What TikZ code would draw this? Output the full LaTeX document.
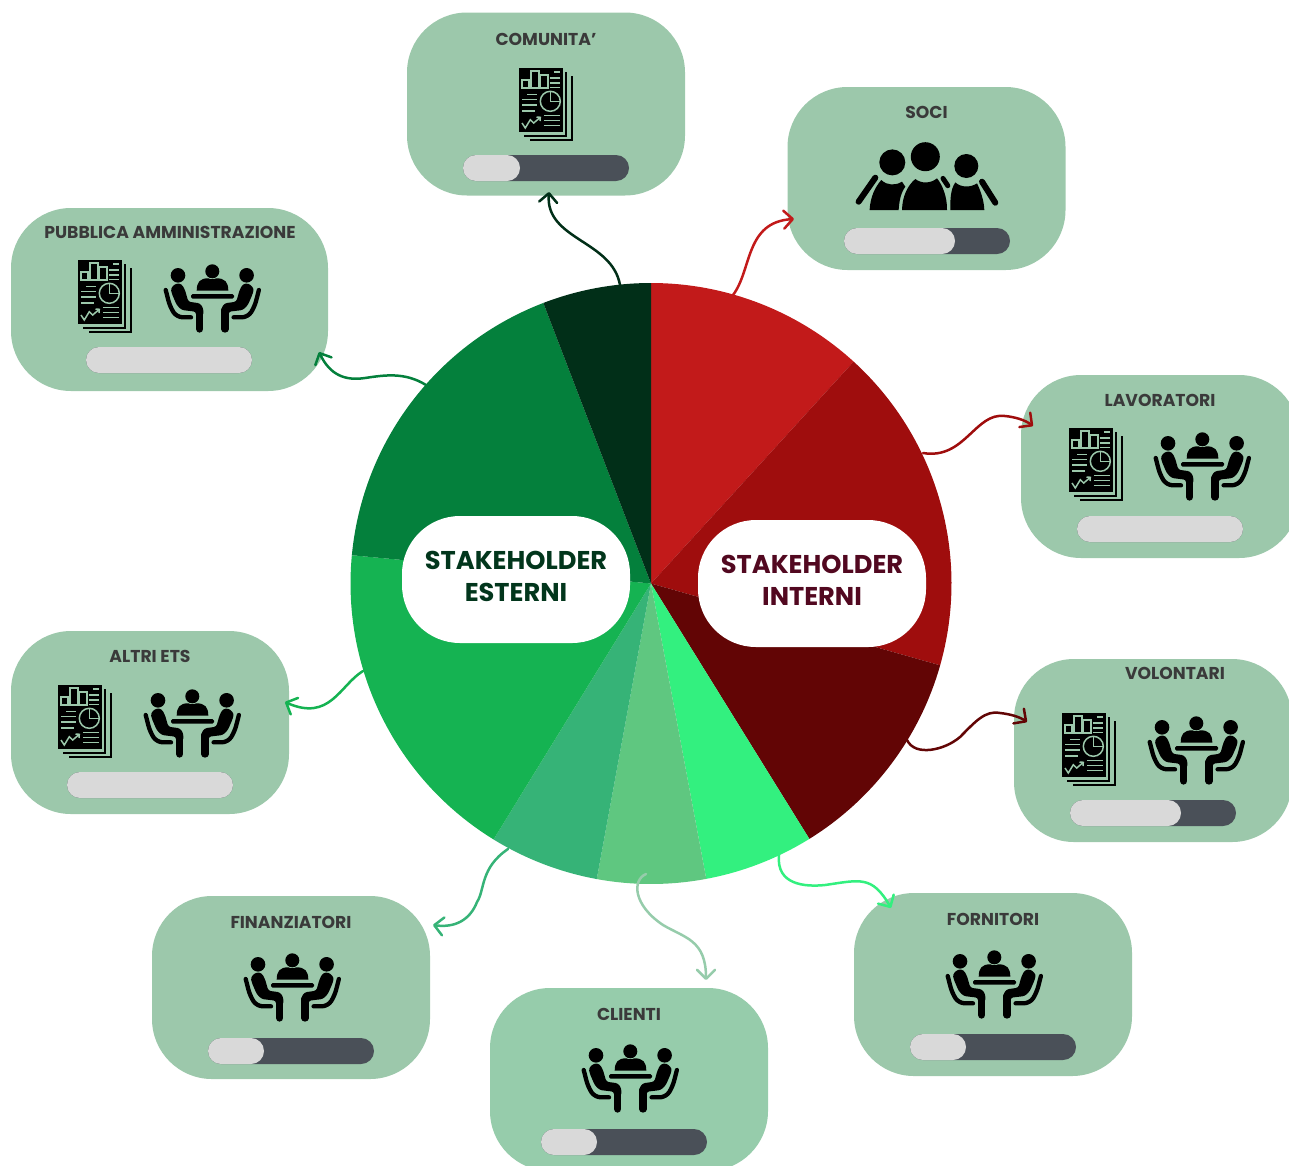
\documentclass[tikz,border=0pt]{standalone}
\usepackage{fontspec}
\setmainfont{Poppins}
\usetikzlibrary{
    arrows.meta,
    positioning
}
\definecolor{cardgreen}{HTML}{9CC8AB}
\definecolor{clientgreen}{HTML}{96CCAB}
\definecolor{trackgray}{HTML}{4A5058}
\definecolor{fillgray}{HTML}{D9D9D9}
\definecolor{labelgray}{HTML}{3A3A3A}
\definecolor{redA}{HTML}{C21A1A}
\definecolor{redB}{HTML}{9F0D0D}
\definecolor{redC}{HTML}{620505}
\definecolor{greenA}{HTML}{33F07F}
\definecolor{greenB}{HTML}{5FC780}
\definecolor{greenC}{HTML}{36B377}
\definecolor{greenD}{HTML}{15B352}
\definecolor{greenE}{HTML}{04803C}
\definecolor{greenF}{HTML}{012F18}
\definecolor{textred}{HTML}{520820}
\definecolor{textgreen}{HTML}{02361C}
\tikzset{
    cardbox/.style={fill=cardgreen, rounded corners=60pt, minimum width=278pt, minimum height=183pt, inner sep=0pt, outer sep=0pt},
    cardlabel/.style={text=labelgray, font=\fontsize{17.2}{20}\selectfont\bfseries, inner sep=0pt},
    pillbox/.style={fill=white, rounded corners=58pt, minimum width=228pt, minimum height=127pt, inner sep=0pt},
    pilllabel/.style={inner sep=0pt, align=center, font=\fontsize{25.7}{32}\selectfont\bfseries},
    linkline/.style={line width=2.5pt, line cap=round, -{Straight Barb[length=9pt,width=18pt,round]}},
    levelbar/.pic={
        \fill[trackgray, rounded corners=13pt] (0, 0) rectangle (166, 26);
        \fill[fillgray, rounded corners=13pt] (0, 0) rectangle (#1, 26);
    },
    reporticon/.pic={
        \draw[line width=1.7pt] (47, 4) -- (47, 68) -- (5, 68);
        \draw[line width=1.7pt] (53, 8) -- (53, 72) -- (11, 72);
        \fill (0, 0) rectangle (44, 64);
        \begin{scope}[cardgreen, line width=1.5pt]
            \draw (3, 12) rectangle (10, 20);
            \draw (12, 3) rectangle (20, 20);
            \draw (21.5, 7) rectangle (29, 20);
            \draw (35, 4) -- (41, 4) (31, 10) -- (41, 10) (31, 15) -- (41, 15) (31, 19.5) -- (41, 19.5);
            \draw (8, 26.5) -- (18, 26.5) (3, 31.5) -- (18, 31.5) (3, 37) -- (18, 37) (3, 43) -- (16, 43);
            \draw (31.3, 33.3) circle (10);
            \draw (31.3, 23.3) -- (31.3, 33.3) -- (41.3, 33.3);
            \draw (3, 55) -- (6.3, 60) -- (11.3, 51.7) -- (14.7, 55) -- (21.3, 49.3) (17.5, 49) -- (21.3, 49.3) -- (21, 53);
            \draw (25, 47.5) -- (41, 47.5) (25, 52.5) -- (41, 52.5) (25, 57.5) -- (41, 57.5);
        \end{scope}
    },
    meetingside/.pic={
        \fill (14, 11.3) circle (7.3);
        \fill[rounded corners=2.5pt] (6.7, 24.3) -- (12, 19.3) -- (17.7, 20) -- (21, 26) -- (24.3, 37.7) -- (36, 39.3) -- (39.3, 44.3) -- (39.3, 52) -- (32, 52) -- (32, 47.7) -- (17.7, 46) -- (12.7, 41) -- (7.7, 29.3) -- cycle;
        \draw[line width=7.3pt, line cap=round] (35.65, 46) -- (35.65, 65);
        \draw[line width=4.3pt, line cap=round, line join=round, rounded corners=6pt] (1.7, 26) -- (6, 42.7) -- (12.7, 53.3) -- (27, 53.3);
    },
    meetingicon/.pic={
        \pic at (0, 0) {meetingside};
        \pic[xscale=-1] at (96.6, 0) {meetingside};
        \fill (48.3, 7.3) circle (7);
        \fill (32.7, 26.7) .. controls (32.7, 18) and (36, 14.3) .. (44.3, 14.3) .. controls (46, 15.5) and (50.5, 15.5) .. (52.3, 14.3) .. controls (61, 14.3) and (64.3, 18) .. (64.3, 26.7) -- cycle;
        \fill[rounded corners=1.5pt] (27, 30) rectangle (70, 34.7);
    },
    crowdicon/.pic={
        \fill (37, 20.7) circle (13);
        \fill (70, 15) circle (14.5);
        \fill (111, 24.3) circle (12);
        \fill (14.3, 68.3) .. controls (15, 55) and (20, 45) .. (26, 38.3) .. controls (32, 44) and (40, 44) .. (46.7, 40) -- (50, 45) .. controls (45, 52) and (44, 60) .. (43.3, 68.3) -- cycle;
        \fill (46.7, 68.3) .. controls (47, 55) and (52, 44) .. (60, 37.3) .. controls (66, 42) and (75, 42) .. (81.7, 36.7) .. controls (87, 43) and (92, 55) .. (91.7, 68.3) -- cycle;
        \fill (95, 68.3) .. controls (95, 58) and (95, 48) .. (100, 40.7) .. controls (106, 46) and (115, 46) .. (121.7, 41.7) .. controls (125, 48) and (129, 60) .. (129, 68.3) -- cycle;
        \draw[line width=6pt, line cap=round] (20, 36) -- (3.3, 60);
        \draw[line width=6pt, line cap=round] (126.7, 40) -- (140, 61);
        \draw[line width=5pt, line cap=round] (87.7, 36.7) -- (92.5, 44);
    }
}

\begin{document}
\begin{tikzpicture}[x=1pt, y=-1pt]
    \clip (0, 0) rectangle (1289, 1165);
    % pie
    \coordinate (pie) at (651, 583.5);
    \foreach \from/\to/\col in {-90/-47.6/redA, -47.6/15.8/redB, 15.8/58.2/redC, 58.2/79.4/greenA, 79.4/100.4/greenB, 100.4/121.6/greenC, 121.6/185.4/greenD, 185.4/249/greenE, 249/270/greenF}
    {
        \fill[\col] (pie) -- ++(\from:300.5) arc[start angle=\from, end angle=\to, radius=300.5] -- cycle;
    }
    \node[pillbox] (esterni) at (516, 579.5) {};
    \node[pillbox] (interni) at (812, 583.5) {};
    \node[pilllabel, text=textgreen] (esternilabel) at (516, 576) {STAKEHOLDER\\ESTERNI};
    \node[pilllabel, text=textred] (internilabel) at (812, 580) {STAKEHOLDER\\INTERNI};
    % cards
    \node[cardbox] (comunita) at (546, 104) {};
    \node[cardbox] (soci) at (926.5, 178.5) {};
    \node[cardbox] (lavoratori) at (1160, 466.5) {};
    \node[cardbox] (volontari) at (1153, 750.5) {};
    \node[cardbox] (fornitori) at (993, 984.5) {};
    \node[cardbox, fill=clientgreen] (clienti) at (629, 1079.5) {};
    \node[cardbox] (finanziatori) at (291, 987.5) {};
    \node[cardbox] (altri) at (150, 722.5) {};
    \node[cardbox, minimum width=317pt] (pubblica) at (169.5, 299.5) {};
    % labels
    \node[cardlabel] (comunitalabel) at (546, 39) {COMUNITA'};
    \node[cardlabel] (socilabel) at (926.5, 112) {SOCI};
    \node[cardlabel] (lavoratorilabel) at (1160, 400) {LAVORATORI};
    \node[cardlabel] (volontarilabel) at (1175, 673) {VOLONTARI};
    \node[cardlabel] (fornitorilabel) at (993, 919) {FORNITORI};
    \node[cardlabel] (clientilabel) at (629, 1014) {CLIENTI};
    \node[cardlabel] (finanziatorilabel) at (291, 922) {FINANZIATORI};
    \node[cardlabel] (altrilabel) at (150, 656) {ALTRI ETS};
    \node[cardlabel] (pubblicalabel) at (170, 232) {PUBBLICA AMMINISTRAZIONE};
    % icons
    \pic at (519, 68) {reporticon};
    \pic at (855.3, 141.7) {crowdicon};
    \pic at (1069, 428) {reporticon};
    \pic at (1154, 432) {meetingicon};
    \pic at (1062, 713) {reporticon};
    \pic at (1148, 716) {meetingicon};
    \pic at (946, 950) {meetingicon};
    \pic at (582, 1044) {meetingicon};
    \pic at (244, 953) {meetingicon};
    \pic at (58, 685) {reporticon};
    \pic at (144, 689) {meetingicon};
    \pic at (78, 260) {reporticon};
    \pic at (164, 264) {meetingicon};
    % bars
    \pic at (463, 155) {levelbar=57};
    \pic at (844, 228) {levelbar=111};
    \pic at (1077, 516) {levelbar=166};
    \pic at (1070, 800) {levelbar=111};
    \pic at (910, 1034) {levelbar=56};
    \pic at (541, 1129) {levelbar=56};
    \pic at (208, 1038) {levelbar=56};
    \pic at (67, 772) {levelbar=166};
    \pic at (86, 347) {levelbar=166};
    % link ends
    \coordinate (socifrom) at (733, 295);
    \coordinate (socito) at (794, 219);
    \coordinate (lavoratorifrom) at (923, 453);
    \coordinate (lavoratorito) at (1033, 426);
    \coordinate (volontarifrom) at (907, 740);
    \coordinate (volontarito) at (1027, 722);
    \coordinate (fornitorifrom) at (779, 855);
    \coordinate (fornitorito) at (891, 908);
    \coordinate (clientifrom) at (646, 874);
    \coordinate (clientito) at (706, 980);
    \coordinate (finanziatorifrom) at (508, 849);
    \coordinate (finanziatorito) at (433, 925);
    \coordinate (altrifrom) at (363, 671);
    \coordinate (altrito) at (285, 702);
    \coordinate (pubblicafrom) at (426, 385);
    \coordinate (pubblicato) at (319, 352);
    \coordinate (comunitafrom) at (620, 285);
    \coordinate (comunitato) at (549, 192);
    % links
    \draw[linkline, redA] (socifrom) .. controls (752, 270) and (745, 222) .. (socito);
    \draw[linkline, redB] (lavoratorifrom) .. controls (965, 460) and (975, 412) .. (1005, 416) .. controls (1015, 417) and (1025, 420) .. (lavoratorito);
    \draw[linkline, redC] (volontarifrom) .. controls (915, 757) and (945, 750) .. (960, 737) .. controls (975, 722) and (985, 710) .. (1000, 713) .. controls (1010, 714) and (1020, 717) .. (volontarito);
    \draw[linkline, greenA] (fornitorifrom) .. controls (776, 885) and (805, 887) .. (825, 885) .. controls (860, 880) and (872, 875) .. (fornitorito);
    \draw[linkline, clientgreen] (clientifrom) .. controls (632, 880) and (633, 905) .. (663, 925) .. controls (685, 938) and (706, 940) .. (clientito);
    \draw[linkline, greenC] (finanziatorifrom) .. controls (480, 868) and (485, 890) .. (477, 902) .. controls (470, 920) and (455, 928) .. (finanziatorito);
    \draw[linkline, greenD] (altrifrom) .. controls (340, 685) and (330, 722) .. (altrito);
    \draw[linkline, greenE] (pubblicafrom) .. controls (405, 372) and (385, 375) .. (365, 378) .. controls (345, 381) and (330, 375) .. (pubblicato);
    \draw[linkline, greenF] (comunitafrom) .. controls (612, 240) and (545, 240) .. (comunitato);
\end{tikzpicture}
\end{document}
